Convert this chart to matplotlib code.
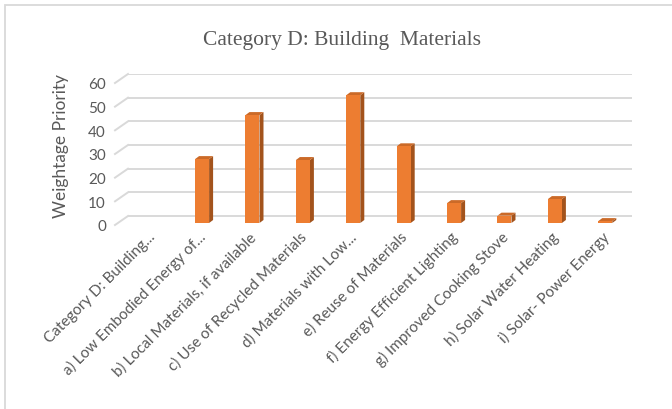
import matplotlib
matplotlib.use("Agg")
import matplotlib.pyplot as plt
from matplotlib.patches import Polygon, Rectangle

# chart data
categories = [
    "Category D: Building...",
    "a) Low Embodied Energy of...",
    "b) Local Materials, if available",
    "c) Use of Recycled Materials",
    "d) Materials with Low...",
    "e) Reuse of Materials",
    "f) Energy Efficient Lighting",
    "g) Improved Cooking Stove",
    "h) Solar Water Heating",
    "i) Solar- Power Energy",
]
values = [0, 27, 45.6, 26.6, 54, 32.4, 8.4, 3.1, 10.1, 0.8]
y_ticks = [0, 10, 20, 30, 40, 50, 60]

title = "Category D: Building  Materials"
y_label = "Weightage Priority"

W, H = 672, 410
fig = plt.figure(figsize=(W / 100, H / 100), dpi=100)

# chart area border (light gray, top and left visible)
fig.patches.append(Rectangle((5 / W, -0.05), 1.2, 1 - 6 / H + 0.05, transform=fig.transFigure,
                             fill=False, edgecolor="#D9D9D9", linewidth=1.3))

# back wall: x -0.5..9.5 -> px 128..632, y 0..60 -> px 217..75
ymin = -6
px_per_unit = 142 / 60
bottom_px = 217 - ymin * px_per_unit
ax = fig.add_axes([128 / W, (H - bottom_px) / H, 504 / W, (bottom_px - 75) / H])
ax.set_xlim(-0.5, 9.5)
ax.set_ylim(ymin, 60)
for s in ax.spines.values():
    s.set_visible(False)

# depth offsets (data units)
front_dx = -13 / 50.4
front_dy = -9 / px_per_unit
side_dx = 4 / 50.4
side_dy = 3 / px_per_unit
base = -7 / px_per_unit

grid_c = "#D9D9D9"
ax.hlines(y_ticks, -0.5, 9.5, color=grid_c, linewidth=1.4, zorder=1)
for t in y_ticks:
    ax.plot([-0.5 + front_dx, -0.5], [t + front_dy, t], color=grid_c, linewidth=1.4,
            clip_on=False, zorder=1)

front_c = "#ED7D31"
side_c = "#A3531C"
top_c = "#CB6A28"
bw = 0.278
xs = [i - 0.03 for i in range(len(categories))]
for x, v in zip(xs, values):
    if v <= 0:
        continue
    x0, x1 = x - bw / 2, x + bw / 2
    top = base + v
    ax.add_patch(Polygon([(x1, base), (x1 + side_dx, base + side_dy),
                          (x1 + side_dx, top + side_dy), (x1, top)],
                         closed=True, facecolor=side_c, edgecolor="none", zorder=3))
    ax.add_patch(Polygon([(x0, top), (x1, top), (x1 + side_dx, top + side_dy),
                          (x0 + side_dx, top + side_dy)],
                         closed=True, facecolor=top_c, edgecolor="none", zorder=3))
ax.bar(xs, values, width=bw, bottom=base, color=front_c, zorder=4)

txt_c = "#595959"
ax.set_yticks([t + front_dy for t in y_ticks], [str(t) for t in y_ticks])
ax.tick_params(axis="y", length=0, pad=(128 - 106) * 0.72, labelsize=11,
               labelcolor=txt_c)
ax.set_xticks(range(len(categories)), categories)
ax.tick_params(axis="x", length=0, pad=3, labelsize=11, labelcolor=txt_c)
for lab in ax.get_xticklabels():
    lab.set_rotation(45)
    lab.set_ha("right")
    lab.set_va("center")
    lab.set_rotation_mode("anchor")
for lab in ax.get_xticklabels() + ax.get_yticklabels():
    lab.set_family("Lato")

fig.text(61 / W, 1 - 146 / H, y_label, rotation=90, ha="center", va="center",
         fontsize=12.5, color=txt_c, family="Lato")
fig.text(342 / W, 1 - 41 / H, title, ha="center", va="center", fontsize=15.5,
         color=txt_c, family="Liberation Serif")

fig.savefig("out.png", dpi=100, facecolor="white")
